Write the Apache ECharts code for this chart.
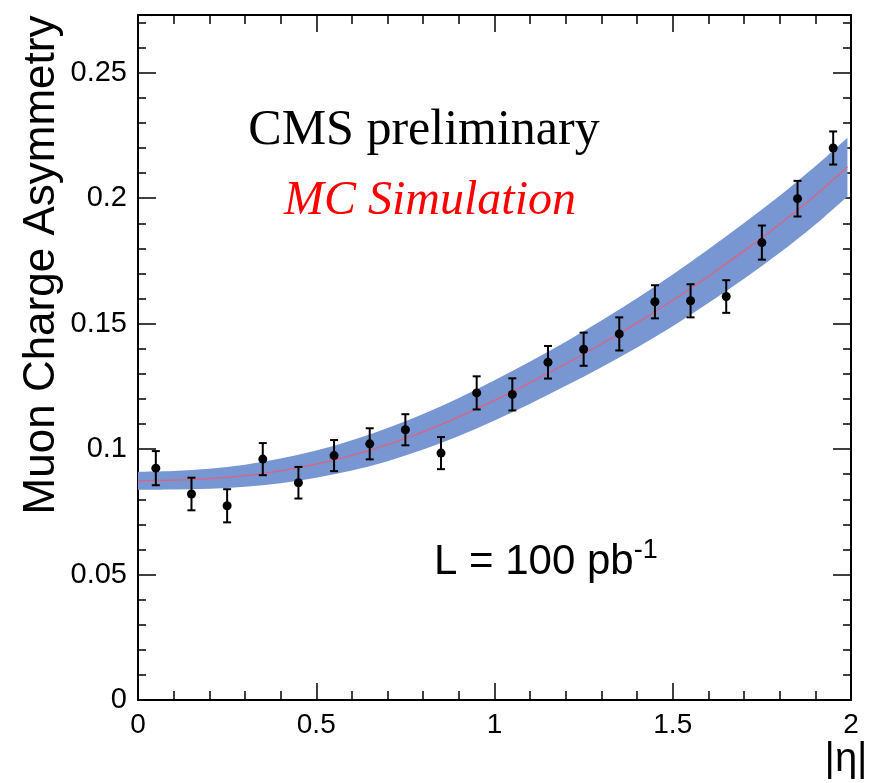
<!DOCTYPE html>
<html><head><meta charset="utf-8">
<script src="https://cdn.jsdelivr.net/npm/echarts@6/dist/echarts.min.js"></script>
<style>html,body{margin:0;padding:0;background:#fff}#c{width:889px;height:783px}</style>
</head><body><div id="c"></div>
<script>
// ---- data ----
const etaCentres = [0.05,0.15,0.25,0.35,0.45,0.55,0.65,0.75,0.85,0.95,1.05,1.15,1.25,1.35,1.45,1.55,1.65,1.75,1.85,1.95];
const asymmetry  = [0.0924,0.0821,0.0774,0.0960,0.0866,0.0974,0.1021,0.1077,0.0984,0.1224,0.1218,0.1346,0.1398,0.1459,0.1587,0.1591,0.1608,0.1823,0.1998,0.2200];
const asymErr    = [0.0068,0.0065,0.0066,0.0064,0.0063,0.0062,0.0062,0.0062,0.0064,0.0066,0.0064,0.0065,0.0066,0.0066,0.0066,0.0066,0.0065,0.0068,0.0071,0.0066];

const fitEta       = [0,0.1,0.2,0.3,0.4,0.5,0.6,0.7,0.8,0.9,1.0,1.1,1.2,1.3,1.4,1.5,1.6,1.7,1.8,1.9,1.99];
const fitCentre    = [0.0874,0.0876,0.0882,0.0894,0.0913,0.0940,0.0975,0.1018,0.1069,0.1128,0.1194,0.1265,0.1340,0.1419,0.1503,0.1593,0.1689,0.1790,0.1896,0.2011,0.2124];
const fitHalfWidth = [0.0036,0.0037,0.0040,0.0044,0.0049,0.0054,0.0060,0.0066,0.0071,0.0076,0.0080,0.0084,0.0088,0.0093,0.0098,0.0103,0.0107,0.0111,0.0114,0.0116,0.0117];

const xMajorTicks = [0,0.5,1,1.5,2];
const xTickLabels = ['0','0.5','1','1.5','2'];
const xMinorTicks = [0.1,0.2,0.3,0.4,0.6,0.7,0.8,0.9,1.1,1.2,1.3,1.4,1.6,1.7,1.8,1.9];
const yMajorTicks = [0,0.05,0.1,0.15,0.2,0.25];
const yTickLabels = ['0','0.05','0.1','0.15','0.2','0.25'];
const yMinorTicks = [0.01,0.02,0.03,0.04,0.06,0.07,0.08,0.09,0.11,0.12,0.13,0.14,0.16,0.17,0.18,0.19,0.21,0.22,0.23,0.24,0.26,0.27];

const X_MIN = 0, X_MAX = 2, Y_MIN = 0, Y_MAX = 0.273;

// ---- chart ----
const chart = echarts.init(document.getElementById('c'), null, {renderer:'canvas'});
const FONT = 'Liberation Sans, Arial, Helvetica, sans-serif';
const SERIF = 'Liberation Serif, Times New Roman, serif';

function xAx(pos, ticks, len, showLine, labels) {
  return {
    type:'value', min:X_MIN, max:X_MAX, position:pos,
    axisLine:{show:showLine, onZero:false, lineStyle:{color:'#000', width:2}},
    axisTick:{show:true, inside:true, length:len, customValues:ticks, lineStyle:{color:'#000', width:1.5}},
    axisLabel: labels ? {show:true, customValues:xMajorTicks, margin:11, fontSize:28, fontFamily:FONT, color:'#000',
      formatter:(v)=>{const i=xMajorTicks.findIndex(t=>Math.abs(t-v)<1e-9); return i>=0?xTickLabels[i]:'';}} : {show:false},
    splitLine:{show:false}, minorTick:{show:false}
  };
}
function yAx(pos, ticks, len, showLine, labels) {
  return {
    type:'value', min:Y_MIN, max:Y_MAX, position:pos,
    axisLine:{show:showLine, onZero:false, lineStyle:{color:'#000', width:2}},
    axisTick:{show:true, inside:true, length:len, customValues:ticks, lineStyle:{color:'#000', width:1.5}},
    axisLabel: labels ? {show:true, customValues:yMajorTicks, margin:11, fontSize:29, fontFamily:FONT, color:'#000',
      formatter:(v)=>{const i=yMajorTicks.findIndex(t=>Math.abs(t-v)<1e-9); return i>=0?yTickLabels[i]:'';}} : {show:false},
    splitLine:{show:false}, minorTick:{show:false}
  };
}

const bandRows  = fitEta.map((x,i)=>[x, fitCentre[i]-fitHalfWidth[i], fitCentre[i]+fitHalfWidth[i]]);
const fitLine   = fitEta.map((x,i)=>[x, fitCentre[i]]);
const points    = etaCentres.map((x,i)=>[x, asymmetry[i]]);
const bars      = etaCentres.map((x,i)=>[x, asymmetry[i], asymErr[i]]);

// Catmull-Rom style smooth path through screen points (rendering only)
function smoothSeg(pts, first) {
  let d = first ? 'M' + pts[0][0] + ' ' + pts[0][1] : 'L' + pts[0][0] + ' ' + pts[0][1];
  for (let i = 0; i < pts.length - 1; i++) {
    const p0 = pts[Math.max(i-1,0)], p1 = pts[i], p2 = pts[i+1], p3 = pts[Math.min(i+2, pts.length-1)];
    const c1 = [p1[0] + (p2[0]-p0[0])/6, p1[1] + (p2[1]-p0[1])/6];
    const c2 = [p2[0] - (p3[0]-p1[0])/6, p2[1] - (p3[1]-p1[1])/6];
    d += ' C' + c1[0] + ' ' + c1[1] + ' ' + c2[0] + ' ' + c2[1] + ' ' + p2[0] + ' ' + p2[1];
  }
  return d;
}

chart.setOption({
  animation:false,
  backgroundColor:'#fff',
  grid:{left:138, right:38, top:15, bottom:83, containLabel:false, outerBoundsMode:'none'},
  xAxis:[
    xAx('bottom', xMajorTicks, 17, true, true),
    xAx('bottom', xMinorTicks, 9, false, false),
    xAx('top', xMajorTicks, 17, true, false),
    xAx('top', xMinorTicks, 9, false, false)
  ],
  yAxis:[
    yAx('left', yMajorTicks, 18, true, true),
    yAx('left', yMinorTicks, 8, false, false),
    yAx('right', yMajorTicks, 18, true, false),
    yAx('right', yMinorTicks, 8, false, false)
  ],
  series:[
    {type:'custom', name:'band', data:bandRows, z:1, silent:true,
     renderItem:(params, api)=>{
       if (params.dataIndex !== 0) return null;
       const upper = bandRows.map(r=>api.coord([r[0], r[2]]));
       const lower = bandRows.map(r=>api.coord([r[0], r[1]])).reverse();
       const d = smoothSeg(upper, true) + ' ' + smoothSeg(lower, false) + ' Z';
       return {type:'path', shape:{pathData:d}, style:{fill:'#7796d2', stroke:null}};
     }},
    {type:'line', name:'fit', data:fitLine, symbol:'none', smooth:0.3,
     lineStyle:{color:'#dc6482', width:1.3}, silent:true, z:2},
    {type:'custom', name:'err', data:bars, z:3, silent:true,
     renderItem:(params, api)=>{
       const x = api.value(0), y = api.value(1), e = api.value(2);
       const top = api.coord([x, y+e]), bot = api.coord([x, y-e]);
       const cw = 4;
       const st = {stroke:'#000', lineWidth:2};
       return {type:'group', children:[
         {type:'line', shape:{x1:top[0], y1:top[1], x2:bot[0], y2:bot[1]}, style:st},
         {type:'line', shape:{x1:top[0]-cw, y1:top[1], x2:top[0]+cw, y2:top[1]}, style:st},
         {type:'line', shape:{x1:bot[0]-cw, y1:bot[1], x2:bot[0]+cw, y2:bot[1]}, style:st}
       ]};
     }},
    {type:'scatter', name:'points', data:points, symbol:'circle', symbolSize:9,
     itemStyle:{color:'#000', opacity:1}, z:4, silent:true}
  ],
  graphic:[
    {type:'text', x:42, y:265, rotation:Math.PI/2, z:100,
     style:{text:'Muon Charge Asymmetry', fontSize:44, fontFamily:FONT, fill:'#000', textAlign:'center', textVerticalAlign:'middle'}},
    {type:'text', x:846, y:760, z:100,
     style:{text:'|η|', fontSize:40, fontFamily:FONT, fill:'#000', textAlign:'center', textVerticalAlign:'middle'}},
    {type:'text', x:424, y:131, z:100,
     style:{text:'CMS preliminary', fontSize:50, fontFamily:SERIF, fill:'#000', textAlign:'center', textVerticalAlign:'middle'}},
    {type:'text', x:430, y:201, z:100,
     style:{text:'MC Simulation', fontSize:48, fontStyle:'italic', fontFamily:SERIF, fill:'#ff0000', textAlign:'center', textVerticalAlign:'middle'}},
    {type:'text', x:434, y:562, z:100,
     style:{text:'{a|L = 100 pb}{s|-1}', textAlign:'left', textVerticalAlign:'middle',
       rich:{a:{fontSize:42, fontFamily:FONT, fill:'#000', color:'#000'},
             s:{fontSize:27, fontFamily:FONT, fill:'#000', color:'#000', padding:[0,0,22,0]}}}}
  ]
});
</script></body></html>
